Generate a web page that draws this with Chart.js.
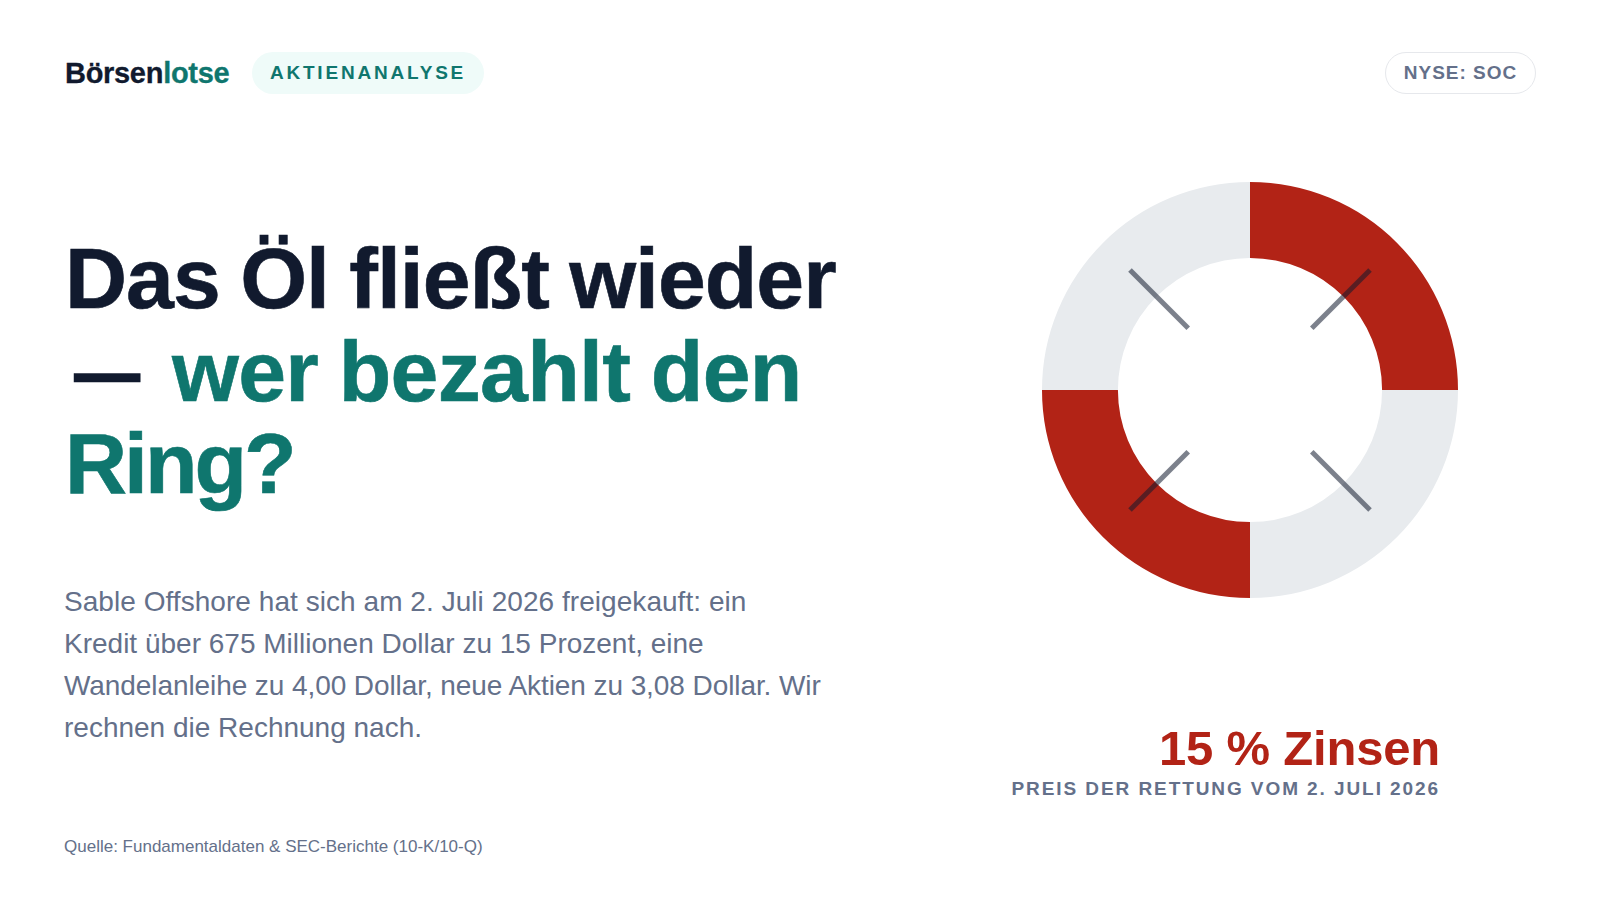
<!DOCTYPE html>
<html lang="de"><head><meta charset="utf-8">
<script src="https://cdn.jsdelivr.net/npm/chart.js@4"></script>
<style>
html,body{margin:0;padding:0;background:#fff;width:1600px;height:900px;overflow:hidden;font-family:"Liberation Sans",Arial,sans-serif}
.a{position:absolute;white-space:nowrap}
#logo{left:65px;top:55px;font-size:29px;line-height:36px;font-weight:700;letter-spacing:-.3px;color:#111a2e;-webkit-text-stroke:.3px currentColor}
#logo span{color:#0f766e}
#tag{left:252px;top:52px;width:232px;height:42px;box-sizing:border-box;border-radius:21px;background:#effbf9;color:#0f766e;font-weight:700;font-size:19px;line-height:42px;letter-spacing:2.8px;text-align:center}
#nyse{left:1385px;top:52px;width:151px;height:42px;box-sizing:border-box;border:1px solid #e6e8ec;border-radius:21px;color:#64708a;font-weight:700;font-size:19px;line-height:40px;letter-spacing:1px;text-align:center}
.t{font-size:86px;line-height:92.5px;font-weight:700;color:#111a2e;-webkit-text-stroke:.6px currentColor}
.g{color:#0f766e}
#t1{left:65px;top:232px;letter-spacing:-1px;word-spacing:-2.5px}
#dash{left:64px;top:324.5px;letter-spacing:0;transform-origin:0 50%;transform:translateX(10px) scaleX(.77)}
#t2{left:172px;top:324.5px;letter-spacing:-.7px;word-spacing:-2.5px}
#t3{left:65px;top:417px;letter-spacing:-3px}
#body{left:64px;top:581px;font-size:28px;line-height:42px;color:#64708a}
#src{left:64px;top:837px;font-size:17px;line-height:20px;color:#64708a}
#big{right:160px;top:720px;font-size:49px;line-height:56px;font-weight:700;color:#b22316;letter-spacing:-.2px}
#sub{right:160px;top:777px;font-size:19px;line-height:24px;font-weight:700;color:#64708a;letter-spacing:1.92px}
#wrap{position:absolute;left:1042px;top:182px;width:416px;height:416px}
</style></head><body>
<div class="a" id="logo">Börsen<span>lotse</span></div>
<div class="a" id="tag">AKTIENANALYSE</div>
<div class="a" id="nyse">NYSE: SOC</div>
<div class="a t" id="t1">Das Öl fließt wieder</div>
<div class="a t" id="dash">—</div>
<div class="a t g" id="t2">wer bezahlt den</div>
<div class="a t g" id="t3">Ring?</div>
<div class="a" id="body"><span style="letter-spacing:.05px">Sable Offshore hat sich am 2. Juli 2026 freigekauft: ein</span><br>Kredit über 675 Millionen Dollar zu 15 Prozent, eine<br><span style="letter-spacing:-.08px">Wandelanleihe zu 4,00 Dollar, neue Aktien zu 3,08 Dollar. Wir</span><br>rechnen die Rechnung nach.</div>
<div class="a" id="src">Quelle: Fundamentaldaten &amp; SEC-Berichte (10-K/10-Q)</div>
<div class="a" id="big">15 % Zinsen</div>
<div class="a" id="sub">PREIS DER RETTUNG VOM 2. JULI 2026</div>
<div id="wrap"><canvas id="c"></canvas></div>
<script>
const segmentLabels = ["A", "B", "C", "D"];
const segmentValues = [25, 25, 25, 25];
const segmentColors = ["#b22316", "#e8ebee", "#b22316", "#e8ebee"];
const spokeAngles = [45, 135, 225, 315];

const spokes = {
  id: "spokes",
  afterDatasetsDraw(chart) {
    const arc = chart.getDatasetMeta(0).data[0];
    const ctx = chart.ctx;
    const r0 = arc.outerRadius * 0.42, r1 = arc.outerRadius * 0.816;
    ctx.save();
    ctx.strokeStyle = "rgba(17,26,46,0.55)";
    ctx.lineWidth = 5;
    spokeAngles.forEach(d => {
      const t = d * Math.PI / 180;
      ctx.beginPath();
      ctx.moveTo(arc.x + r0 * Math.cos(t), arc.y + r0 * Math.sin(t));
      ctx.lineTo(arc.x + r1 * Math.cos(t), arc.y + r1 * Math.sin(t));
      ctx.stroke();
    });
    ctx.restore();
  }
};
new Chart(document.getElementById("c"), {
  type: "doughnut",
  data: { labels: segmentLabels, datasets: [{ data: segmentValues, backgroundColor: segmentColors, borderWidth: 0, hoverOffset: 0 }] },
  options: {
    responsive: true, maintainAspectRatio: false, animation: false, cutout: "63.5%",
    layout: { padding: 0 },
    plugins: { legend: { display: false }, tooltip: { enabled: false } }
  },
  plugins: [spokes]
});
</script></body></html>
